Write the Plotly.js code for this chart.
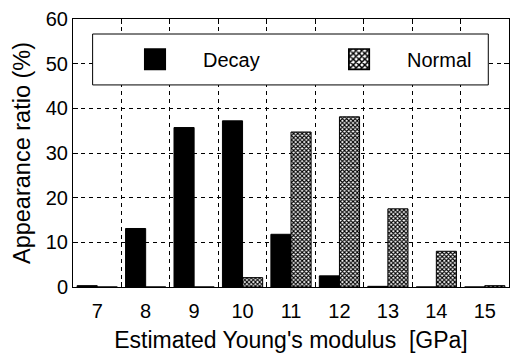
<!DOCTYPE html>
<html>
<head>
<meta charset="utf-8">
<script src="https://cdn.plot.ly/plotly-3.0.1.min.js"></script>
<style>
  html, body { margin: 0; padding: 0; background: #fff; }
  #chart { width: 511px; height: 356px; }
</style>
</head>
<body>
<div id="chart"></div>
<script>
// Estimated Young's modulus bins (GPa)
const modulus = [7, 8, 9, 10, 11, 12, 13, 14, 15];
const tickLabels = ['7', '8', '9', '10', '11', '12', '13', '14', '15'];
// Appearance ratio (%) per bin
const decay  = [0.3, 13.1, 35.7, 37.2, 11.8, 2.5, 0.15, 0, 0];
const normal = [0, 0, 0, 2.1, 34.7, 38.1, 17.5, 8.0, 0.3];

// bin boundaries carry the dashed grid and the tick marks
const edges = modulus.slice(0, -1).map(v => v + 0.5);

const family = 'Liberation Sans, Arial, sans-serif';
const font = { family: family, size: 20, color: '#000' };
const xTitleFont = { family: family, size: 23, color: '#000' };
const yTitleFont = { family: family, size: 23.5, color: '#000' };

const traces = [
  {
    type: 'bar', name: 'Decay', x: modulus, y: decay, legend: 'legend',
    marker: { color: '#000', line: { color: '#000', width: 1 } }
  },
  {
    type: 'bar', name: 'Normal', x: modulus, y: normal, legend: 'legend2',
    marker: {
      color: '#fff', line: { color: '#000', width: 1 },
      pattern: { shape: 'x', size: 3, solidity: 0.6, fgcolor: '#000', bgcolor: '#fff', fillmode: 'replace' }
    }
  },
  // anchors the axis that shows the bin labels
  { type: 'scatter', x: [modulus[0]], y: [null], xaxis: 'x2', showlegend: false, hoverinfo: 'skip' }
];

const legendBase = {
  xanchor: 'left', y: 0.85, yanchor: 'middle', itemwidth: 86,
  bgcolor: 'rgba(0,0,0,0)', borderwidth: 0, font: font
};

const layout = {
  width: 511, height: 356,
  margin: { l: 73, r: 2, t: 19, b: 69 },
  paper_bgcolor: '#fff', plot_bgcolor: '#fff',
  font: font,
  barmode: 'group', bargap: 0.17, bargroupgap: 0,
  showlegend: true,
  legend: Object.assign({ x: 0.078 }, legendBase),
  legend2: Object.assign({ x: 0.546 }, legendBase),
  xaxis: {
    range: [6.5, 15.5], tickvals: edges, showticklabels: false,
    ticks: 'inside', ticklen: 5, tickcolor: '#000',
    showline: true, linecolor: '#000', linewidth: 1, mirror: 'ticks',
    showgrid: true, gridcolor: '#000', gridwidth: 1, griddash: '4px,4px',
    zeroline: false
  },
  xaxis2: {
    overlaying: 'x', matches: 'x', anchor: 'y', side: 'bottom',
    range: [6.5, 15.5], tickvals: modulus, ticktext: tickLabels,
    ticks: '', showgrid: false, showline: false, zeroline: false,
    tickfont: font, ticklabelstandoff: 10,
    title: { text: "Estimated Young's modulus\u00a0\u00a0[GPa]", font: xTitleFont, standoff: 10 }
  },
  yaxis: {
    range: [0, 60], dtick: 10, tickfont: font,
    ticks: 'inside', ticklen: 5, tickcolor: '#000',
    showline: true, linecolor: '#000', linewidth: 1, mirror: 'ticks',
    showgrid: true, gridcolor: '#000', gridwidth: 1, griddash: '4px,4px',
    zeroline: false,
    title: { text: 'Appearance ratio (%)', font: yTitleFont, standoff: 8 }
  },
  shapes: [
    {
      // legend frame
      type: 'rect', xref: 'paper', yref: 'paper',
      x0: 0.045, x1: 0.9525, y0: 0.754, y1: 0.944,
      line: { color: '#000', width: 1 }, fillcolor: '#fff', layer: 'above'
    }
  ]
};

Plotly.newPlot('chart', traces, layout, { staticPlot: true }).then(gd => {
  // larger legend swatches
  gd.querySelectorAll('.legendpoints path').forEach(p => {
    const t = p.getAttribute('transform') || '';
    p.setAttribute('transform', t + ' scale(1.7)');
  });
});
</script>
</body>
</html>
